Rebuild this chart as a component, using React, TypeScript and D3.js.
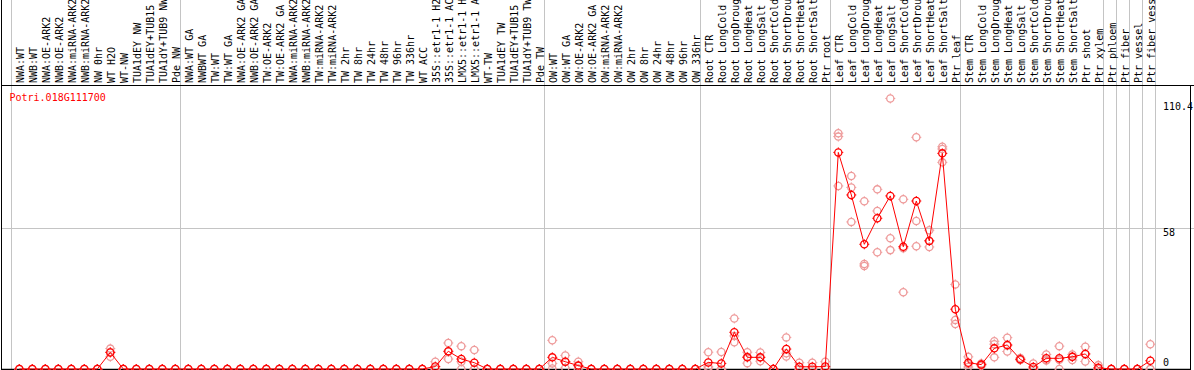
import React from "react";
import * as d3 from "d3";

const W = 1194;
const H = 370;

const geneTitle = "Potri.018G111700";

const labels: string[] = [
  "NWA:WT", "NWB:WT", "NWA:OE-ARK2", "NWB:OE-ARK2", "NWA:miRNA-ARK2", "NWB:miRNA-ARK2", "NW 0hr", "WT H2O", "WT-NW", "TUA1dEY NW", "TUA1dEY+TUB15 NW", "TUA1dY+TUB9 NW", "Pde NW",
  "NWA:WT GA", "NWBWT GA", "TW:WT", "TW:WT GA", "NWA:OE-ARK2 GA", "NWB:OE-ARK2 GA", "TW:OE-ARK2", "TW:OE-ARK2 GA", "NWA:miRNA-ARK2 GA", "NWB:miRNA-ARK2 GA", "TW:miRNA-ARK2", "TW:miRNA-ARK2 GA",
  "TW 2hr", "TW 8hr", "TW 24hr", "TW 48hr", "TW 96hr", "TW 336hr", "WT ACC", "35S::etr1-1 H2O", "35S::etr1-1 ACC", "LMX5::etr1-1 H2O", "LMX5::etr1-1 ACC", "WT-TW", "TUA1dEY TW", "TUA1dEY+TUB15 TW", "TUA1dY+TUB9 TW", "Pde TW",
  "OW:WT", "OW:WT GA", "OW:OE-ARK2", "OW:OE-ARK2 GA", "OW:miRNA-ARK2", "OW:miRNA-ARK2 GA", "OW 2hr", "OW 8hr", "OW 24hr", "OW 48hr", "OW 96hr", "OW 336hr",
  "Root CTR", "Root LongCold", "Root LongDrought", "Root LongHeat", "Root LongSalt", "Root ShortCold", "Root ShortDrought", "Root ShortHeat", "Root ShortSalt", "Ptr root",
  "Leaf CTR", "Leaf LongCold", "Leaf LongDrought", "Leaf LongHeat", "Leaf LongSalt", "Leaf ShortCold", "Leaf ShortDrought", "Leaf ShortHeat", "Leaf ShortSalt", "Ptr leaf",
  "Stem CTR", "Stem LongCold", "Stem LongDrought", "Stem LongHeat", "Stem LongSalt", "Stem ShortCold", "Stem ShortDrought", "Stem ShortHeat", "Stem ShortSalt", "Ptr shoot", "Ptr xylem",
  "Ptr phloem", "Ptr fiber", "Ptr vessel", "Ptr fiber vessel",
];

const means: number[] = [
  0, 0, 0, 0, 0, 0, 0, 6.8, 0, 0, 0, 0, 0,
  0, 0, 0, 0, 0, 0, 0, 0, 0, 0, 0, 0, 0, 0, 0, 0, 0, 0, 0, 1.0, 7.3, 4.1, 2.6, 0, 0, 0, 0, 0,
  4.8, 3.0, 1.4, 0, 0, 0, 0, 0, 0, 0, 0, 0,
  2.7, 2.3, 15.1, 4.8, 4.8, 0, 8.2, 0.9, 0.9, 1.0,
  89.1, 71.6, 51.3, 62.0, 71.2, 50.3, 69.1, 52.7, 88.7, 24.6,
  2.6, 1.8, 8.5, 9.9, 4.0, 0.8, 4.4, 4.4, 5.0, 6.2, 0.5,
  0, 0, 0, 3.4,
];

const rep1: number[] = [
  0, 0, 0, 0, 0, 0, 0, 8.4, 0, 0, 0, 0, 0,
  0, 0, 0, 0, 0, 0, 0, 0, 0, 0, 0, 0, 0, 0, 0, 0, 0, 0, 0, 3.0, 10.7, 9.4, 7.8, 0, 0, 0, 0, 0,
  11.8, 5.6, 3.0, 0, 0, 0, 0, 0, 0, 0, 0, 0,
  6.9, 7.0, 20.8, 6.9, 6.8, 0, 13.0, 2.6, 2.6, 3.0,
  97.0, 79.4, 69.0, 73.9, 111.3, 69.8, 95.3, 57.1, 91.4, 34.8,
  5.0, 2.3, 11.4, 12.9, 4.5, 2.3, 6.0, 9.4, 6.0, 9.2, 1.6,
  0, 0, 0, 10.2,
];

const rep2: number[] = [
  0, 0, 0, 0, 0, 0, 0, 7.0, 0, 0, 0, 0, 0,
  0, 0, 0, 0, 0, 0, 0, 0, 0, 0, 0, 0, 0, 0, 0, 0, 0, 0, 0, 0, 7.1, 3.0, 0, 0, 0, 0, 0, 0,
  2.3, 3.0, 1.3, 0, 0, 0, 0, 0, 0, 0, 0, 0,
  0.9, 0, 13.6, 5.0, 4.8, 0, 6.5, 0, 0, 0,
  95.6, 74.7, 43.2, 65.0, 53.8, 49.7, 60.9, 52.8, 90.5, 20.2,
  2.0, 1.8, 10.2, 9.6, 3.8, 0, 3.7, 3.8, 5.0, 6.2, 0,
  0, 0, 0, 0,
];

const rep3: number[] = [
  0, 0, 0, 0, 0, 0, 0, 5.0, 0, 0, 0, 0, 0,
  0, 0, 0, 0, 0, 0, 0, 0, 0, 0, 0, 0, 0, 0, 0, 0, 0, 0, 0, 0, 4.1, 0, 0, 0, 0, 0, 0, 0,
  0.2, 0.4, 0, 0, 0, 0, 0, 0, 0, 0, 0, 0,
  0.3, 0, 11.0, 2.4, 3.2, 0, 5.1, 0, 0, 0,
  75.3, 60.5, 42.4, 48.0, 48.9, 31.6, 50.5, 50.2, 85.0, 18.5,
  0.8, 1.3, 4.8, 7.2, 3.7, 0, 3.5, 0, 3.7, 3.1, 0,
  0, 0, 0, 0,
];

const groupBounds: number[] = [0, 13, 41, 53, 63, 73, 84, 85, 86, 87, 88];

const yTicks: number[] = [0, 58, 110.4];
const yTickLabels: string[] = ["0", "58", "110.4"];

const FONT = "'DejaVu Sans Mono', monospace";
const RED = "#ff0000";
const PINK = "#ee9a9a";
const GRAY = "#c4c4c4";

function Marker({ x, y, color }: { x: number; y: number; color: string }) {
  const r = 3.6;
  const t = 1.4;
  return (
    <g stroke={color} fill="none">
      <circle cx={x} cy={y} r={r} strokeWidth={1.3} />
      <path
        d={`M${x},${y - r - t}V${y - r}M${x},${y + r}V${y + r + t}M${x - r - t},${y}H${x - r}M${x + r},${y}H${x + r + t}`}
        strokeWidth={1}
      />
    </g>
  );
}

export default function App() {
  const n = labels.length;
  const xb = d3.scaleLinear().domain([0, n]).range([11, 1155]);
  const px = (i: number) => xb(i) + 8.3;
  const y = d3.scaleLinear().domain([0, 58]).range([369, 228]);
  const line = d3
    .line<number>()
    .x((_, i) => px(i))
    .y((d) => y(d));

  const tickYOffsets = [-3.5, 8, 9.5];

  return (
    <svg
      width={W}
      height={H}
      style={{ position: "absolute", left: 0, top: 0, background: "#fff" }}
      fontFamily={FONT}
    >
      <rect x={0} y={0} width={W} height={H} fill="#fff" />
      {/* vertical group separators */}
      {groupBounds.map((k) => (
        <line key={"s" + k} x1={Math.round(xb(k)) + 0.5} x2={Math.round(xb(k)) + 0.5} y1={0} y2={369} stroke={GRAY} strokeWidth={1} />
      ))}
      {/* gridline at 58 */}
      <line x1={1} x2={W} y1={Math.round(y(58)) + 0.5} y2={Math.round(y(58)) + 0.5} stroke={GRAY} strokeWidth={1} />
      {/* frame */}
      <line x1={1.5} x2={1.5} y1={0} y2={370} stroke="#000" strokeWidth={1} />
      <line x1={1} x2={W} y1={85.5} y2={85.5} stroke="#000" strokeWidth={1} />
      <line x1={1190.5} x2={1190.5} y1={85} y2={370} stroke="#000" strokeWidth={1} />
      <line x1={1} x2={1191} y1={369.5} y2={369.5} stroke="#000" strokeWidth={1.5} />

      {/* column labels */}
      {labels.map((lab, i) => (
        <text
          key={"l" + i}
          transform={`translate(${xb(i + 1)},83) rotate(-90)`}
          fontSize={10}
          fill="#000"
        >
          {lab}
        </text>
      ))}

      {/* title */}
      <text x={9.5} y={101} fontSize={10} fill={RED}>
        {geneTitle}
      </text>

      {/* y tick labels */}
      {yTicks.map((v, k) => (
        <text key={"t" + k} x={1163} y={y(v) + tickYOffsets[k]} fontSize={10} fill="#000">
          {yTickLabels[k]}
        </text>
      ))}

      {/* replicates */}
      {[rep1, rep2, rep3].map((rep, r) =>
        rep.map((v, i) => <Marker key={`r${r}-${i}`} x={px(i)} y={y(v)} color={PINK} />)
      )}

      {/* mean line */}
      <path d={line(means) || ""} fill="none" stroke={RED} strokeWidth={1} />

      {/* mean markers */}
      {means.map((v, i) => (
        <Marker key={"m" + i} x={px(i)} y={y(v)} color={RED} />
      ))}
    </svg>
  );
}
